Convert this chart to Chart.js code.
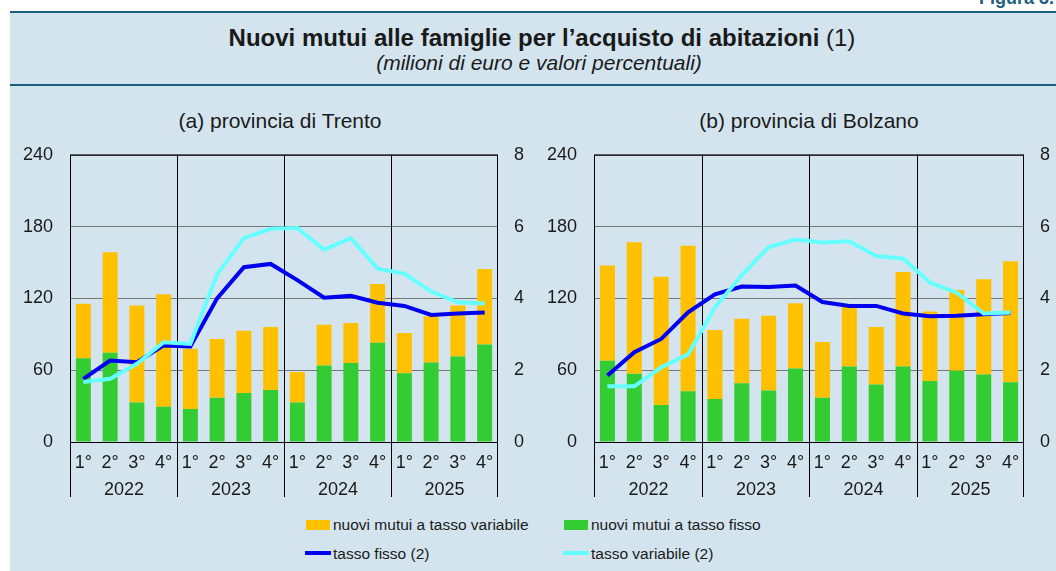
<!DOCTYPE html>
<html>
<head>
<meta charset="utf-8">
<script src="https://cdn.jsdelivr.net/npm/chart.js@4.4.1/dist/chart.umd.min.js"></script>
<style>
  body { margin: 0; width: 1056px; height: 571px; background: #fff; position: relative; overflow: hidden;
         font-family: "Liberation Sans", Arial, sans-serif; color: #1a1a1a; }
  #panel { position: absolute; left: 10px; top: 12px; width: 1046px; height: 559px; background: #d3e4ee; }
  .rule { position: absolute; left: 10px; width: 1046px; height: 2px; background: #1b5e7e; }
  #fig { position: absolute; right: 2px; top: -12px; font-size: 18px; font-weight: bold; color: #1b5e7e; }
  #title { position: absolute; left: 14px; width: 1056px; top: 24px; text-align: center; font-size: 24px; font-weight: bold; }
  #title span { font-weight: normal; }
  #sub { position: absolute; left: 11px; width: 1056px; top: 51px; text-align: center; font-size: 21px; font-style: italic; }
  .ptitle { position: absolute; top: 109px; font-size: 21px; text-align: center; width: 530px; }
  canvas { position: absolute; }
  .leg { position: absolute; font-size: 15.5px; line-height: 18px; }
  .sw { position: absolute; }
</style>
</head>
<body>
<div id="panel"></div>
<div id="fig">Figura 3.</div>
<div class="rule" style="top:11px"></div>
<div class="rule" style="top:84px"></div>
<div id="title">Nuovi mutui alle famiglie per l’acquisto di abitazioni <span>(1)</span></div>
<div id="sub">(milioni di euro e valori percentuali)</div>
<div class="ptitle" style="left:15px">(a) provincia di Trento</div>
<div class="ptitle" style="left:544px">(b) provincia di Bolzano</div>

<canvas id="trento" width="530" height="373" style="left:10px; top:127px"></canvas>
<canvas id="bolzano" width="522" height="373" style="left:534px; top:127px"></canvas>

<div class="sw" style="left:306px; top:520px; width:24px; height:10px; background:#ffc000"></div>
<div class="leg" style="left:333px; top:516px">nuovi mutui a tasso variabile</div>
<div class="sw" style="left:564px; top:520px; width:24px; height:10px; background:#33cc33"></div>
<div class="leg" style="left:591px; top:516px">nuovi mutui a tasso fisso</div>
<div class="sw" style="left:305px; top:551px; width:26px; height:4px; background:#0000f0"></div>
<div class="leg" style="left:333px; top:545px">tasso fisso (2)</div>
<div class="sw" style="left:563px; top:551px; width:26px; height:4px; background:#66ffff"></div>
<div class="leg" style="left:591px; top:545px">tasso variabile (2)</div>

<script>
const quarters = ["1°", "2°", "3°", "4°", "1°", "2°", "3°", "4°", "1°", "2°", "3°", "4°", "1°", "2°", "3°", "4°"];
const years = ["2022", "2023", "2024", "2025"];

// Trento: milioni di euro
const trentoFisso = [70, 74.5, 33, 29.5, 27.5, 37, 41, 43.5, 33, 64, 66, 83, 57.5, 66.5, 71.5, 81.5];
const trentoVariabile = [45.5, 84, 81, 94, 50.5, 49, 52, 52.5, 25.5, 34, 33.5, 49, 33.5, 38.5, 42.5, 63];
// Trento: tassi (%)
const trentoTassoFisso = [1.76, 2.27, 2.22, 2.69, 2.66, 4.0, 4.87, 4.96, 4.51, 4.02, 4.07, 3.88, 3.79, 3.54, 3.58, 3.61];
const trentoTassoVariabile = [1.67, 1.76, 2.18, 2.78, 2.73, 4.67, 5.68, 5.94, 5.96, 5.36, 5.68, 4.83, 4.69, 4.19, 3.89, 3.86];

// Bolzano
const bolzanoFisso = [68, 57, 31, 42.5, 36, 49, 43, 61.5, 37, 63, 48, 63, 51, 59.5, 56.5, 50];
const bolzanoVariabile = [79.5, 110, 107, 121.5, 57.5, 54, 62.5, 54.5, 46.5, 51.5, 48, 79, 58, 67.5, 79.5, 101];
const bolzanoTassoFisso = [1.85, 2.5, 2.87, 3.61, 4.11, 4.33, 4.32, 4.36, 3.9, 3.79, 3.79, 3.58, 3.5, 3.52, 3.56, 3.59];
const bolzanoTassoVariabile = [1.55, 1.55, 2.08, 2.44, 3.75, 4.65, 5.43, 5.64, 5.56, 5.59, 5.18, 5.11, 4.44, 4.16, 3.58, 3.61];

const FONT = { family: "'Liberation Sans', Arial, sans-serif", size: 18 };
const TEXT = "#1a1a1a";

// year labels, year separators and frame
const yearAxis = {
  id: "yearAxis",
  beforeDatasetsDraw(chart) {
    const { ctx, chartArea: a, scales: { x } } = chart;
    ctx.save();
    ctx.strokeStyle = "#000";
    ctx.lineWidth = 1;
    ctx.strokeRect(a.left + 0.5, a.top + 0.5, a.right - a.left - 1, a.bottom - a.top);
    const edges = [a.left + 0.5];
    for (let g = 1; g < years.length; g++) {
      edges.push(Math.round((x.getPixelForValue(g * 4 - 1) + x.getPixelForValue(g * 4)) / 2) + 0.5);
    }
    edges.push(a.right - 0.5);
    ctx.beginPath();
    edges.forEach((px, i) => {
      const top = (i === 0 || i === edges.length - 1) ? a.bottom : a.top;
      ctx.moveTo(px, top);
      ctx.lineTo(px, a.bottom + 55);
    });
    ctx.stroke();
    ctx.fillStyle = TEXT;
    ctx.font = FONT.size + "px " + FONT.family;
    ctx.textAlign = "center";
    ctx.textBaseline = "middle";
    years.forEach((y, g) => {
      ctx.fillText(y, (edges[g] + edges[g + 1]) / 2, a.bottom + 48);
    });
    ctx.restore();
  }
};

function makeChart(id, fisso, variabile, tFisso, tVar, rightWidth) {
  return new Chart(document.getElementById(id), {
    type: "bar",
    data: {
      labels: quarters,
      datasets: [
        { type: "line", label: "tasso fisso (2)", data: tFisso, yAxisID: "y2", borderColor: "#0000f0",
          borderWidth: 4, pointRadius: 0, tension: 0, order: 1 },
        { type: "line", label: "tasso variabile (2)", data: tVar, yAxisID: "y2", borderColor: "#66ffff",
          borderWidth: 4, pointRadius: 0, tension: 0, order: 0 },
        { label: "nuovi mutui a tasso fisso", data: fisso, backgroundColor: "#33cc33", stack: "m", order: 2,
          barPercentage: 0.56, categoryPercentage: 1 },
        { label: "nuovi mutui a tasso variabile", data: variabile, backgroundColor: "#ffc000", stack: "m", order: 2,
          barPercentage: 0.56, categoryPercentage: 1 }
      ]
    },
    options: {
      responsive: false,
      animation: false,
      layout: { padding: { top: 0, bottom: 3, left: 0, right: 0 } },
      plugins: { legend: { display: false }, tooltip: { enabled: false } },
      scales: {
        x: {
          stacked: true,
          grid: { display: false },
          border: { display: false },
          ticks: { color: TEXT, font: FONT, padding: 2, maxRotation: 0, autoSkip: false },
          afterFit(s) { s.height = 55; }
        },
        y: {
          stacked: true,
          min: 0, max: 240,
          ticks: { stepSize: 60, color: TEXT, font: FONT, padding: 17 },
          grid: { drawTicks: false, color: "#777", lineWidth: 1 },
          border: { display: false },
          afterFit(s) { s.width = 60; }
        },
        y2: {
          position: "right",
          min: 0, max: 8,
          ticks: { stepSize: 2, color: TEXT, font: FONT, padding: 16 },
          grid: { display: false, drawTicks: false },
          border: { display: false },
          afterFit(s) { s.width = rightWidth; }
        }
      }
    },
    plugins: [yearAxis]
  });
}

makeChart("trento", trentoFisso, trentoVariabile, trentoTassoFisso, trentoTassoVariabile, 42);
makeChart("bolzano", bolzanoFisso, bolzanoVariabile, bolzanoTassoFisso, bolzanoTassoVariabile, 32);
</script>
</body>
</html>
